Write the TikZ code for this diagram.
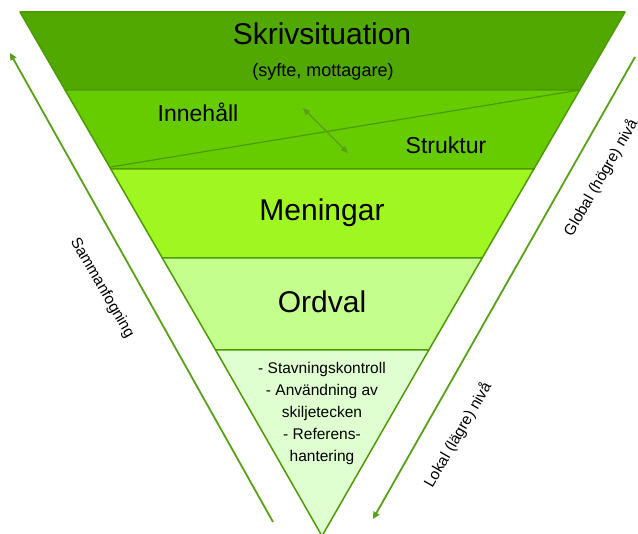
\documentclass[tikz,border=0pt]{standalone}
\usepackage{fontspec}
\setmainfont{Liberation Sans}
\usepackage{tikz}
\usetikzlibrary{arrows.meta}

\definecolor{lvone}{RGB}{80,168,0}
\definecolor{lvtwo}{RGB}{102,204,0}
\definecolor{lvthree}{RGB}{160,246,32}
\definecolor{lvfour}{RGB}{196,255,142}
\definecolor{lvfive}{RGB}{224,255,208}
\definecolor{edgegreen}{RGB}{76,154,0}
\definecolor{arrgreen}{RGB}{88,160,24}

\begin{document}
\begin{tikzpicture}[x=1pt,y=-1pt,line width=1.5pt]
\tikzstyle{band}=[draw=edgegreen,line join=round];
\tikzstyle{big}=[font=\fontsize{30}{34}\selectfont];
\tikzstyle{mid}=[font=\fontsize{23}{26}\selectfont];
\tikzstyle{side}=[font=\fontsize{15.5}{18}\selectfont];
\tikzstyle{dir}=[arrgreen,-{Triangle[length=7pt,width=6.5pt]}];

\useasboundingbox (0,0) rectangle (638,534);

% levels of the funnel
\filldraw [band,fill=lvone] (20,12) -- (625,12) -- (579.7,90) -- (65.1,90) -- cycle;
\filldraw [band,fill=lvtwo] (65.1,90) -- (579.7,90) -- (533.9,169) -- (110.8,169) -- cycle;
\draw [edgegreen,line width=1.2pt] (110.8,167) -- (579.7,90);
\filldraw [band,fill=lvthree] (110.8,169) -- (533.9,169) -- (482.2,258) -- (162.3,258) -- cycle;
\filldraw [band,fill=lvfour] (162.3,258) -- (482.2,258) -- (428.8,350) -- (215.6,350) -- cycle;
\filldraw [band,fill=lvfive] (215.6,350) -- (428.8,350) -- (322,536) -- cycle;

\node [big] (sit) at (322,34) {Skrivsituation};
\node [side,font=\fontsize{18}{20}\selectfont] (syfte) at (323,72) {(syfte, mottagare)};
\node [mid] (inn) at (198,112) {Innehåll};
\node [mid] (str) at (446,145) {Struktur};
\node [big] (men) at (322,213) {Meningar};
\node [big] (ord) at (322,302) {Ordval};
\node [side,align=center,font=\fontsize{15.5}{22}\selectfont] (detalj) at (322,413)
  {- Stavningskontroll\\- Användning av\\skiljetecken\\- Referens-\\hantering};

% arrows
\coordinate (ia) at (303,108);
\coordinate (sa) at (348,153);
\draw [dir,line width=1.3pt,{Triangle[length=7pt,width=6pt]}-{Triangle[length=7pt,width=6pt]}] (ia) -- (sa);

\coordinate (lo) at (273,522);
\coordinate (lu) at (10,53);
\draw [dir,line width=1.8pt] (lo) -- (lu);
\coordinate (ro) at (635,57);
\coordinate (ru) at (373,519);
\draw [dir,line width=1.8pt] (ro) -- (ru);

\node [side,rotate=-60] (samman) at (102,288) {Sammanfogning};
\node [side,rotate=60] (glob) at (601,178) {Global (högre) nivå};
\node [side,rotate=60] (lok) at (458,435) {Lokal (lägre) nivå};
\end{tikzpicture}
\end{document}
